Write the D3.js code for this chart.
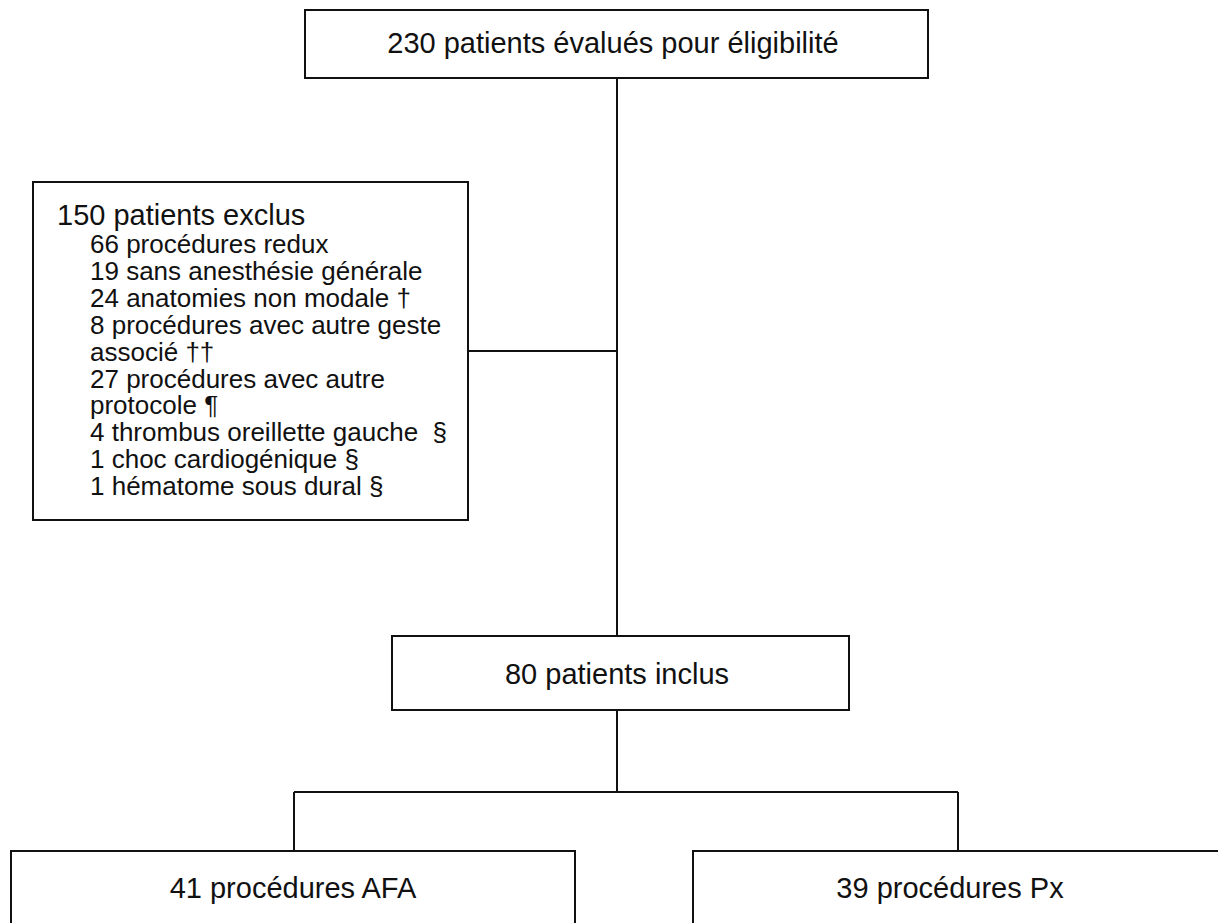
<!DOCTYPE html>
<html>
<head>
<meta charset="utf-8">
<script src="https://cdn.jsdelivr.net/npm/d3@7"></script>
<style>
  html, body { margin: 0; padding: 0; background: #fff; }
  svg { display: block; }
  text { font-family: "Liberation Sans", Arial, Helvetica, sans-serif; fill: #111; white-space: pre; }
</style>
</head>
<body>
<svg id="chart" width="1218" height="923"></svg>
<script>
// ---- content ----
const screeningLabel = "230 patients évalués pour éligibilité";
const includedLabel = "80 patients inclus";
const armLabels = ["41 procédures AFA", "39 procédures Px"];
const exclusionTitle = "150 patients exclus";
const exclusionItems = [
  "66 procédures redux",
  "19 sans anesthésie générale",
  "24 anatomies non modale †",
  "8 procédures avec autre geste",
  "associé ††",
  "27 procédures avec autre",
  "protocole ¶",
  "4 thrombus oreillette gauche  §",
  "1 choc cardiogénique §",
  "1 hématome sous dural §"
];

// ---- layout ----
const svg = d3.select("#chart");
const stroke = "#111";
const sw = 2;

const boxes = [
  {x: 305, y: 10, w: 623, h: 68, label: screeningLabel, tx: 613, ty: 53},
  {x: 392, y: 636, w: 457, h: 74, label: includedLabel, tx: 617, ty: 684},
  {x: 11, y: 851, w: 564, h: 120, label: armLabels[0], tx: 293, ty: 898},
  {x: 693, y: 851, w: 600, h: 120, label: armLabels[1], tx: 950, ty: 898}
];

const lines = [
  [617, 78, 617, 636],
  [468, 351, 617, 351],
  [617, 710, 617, 792],
  [294, 792, 958, 792],
  [294, 792, 294, 851],
  [958, 792, 958, 851]
];

svg.append("g").selectAll("line").data(lines).join("line")
  .attr("x1", d => d[0]).attr("y1", d => d[1])
  .attr("x2", d => d[2]).attr("y2", d => d[3])
  .attr("stroke", stroke).attr("stroke-width", sw);

const bg = svg.append("g").selectAll("g").data(boxes).join("g");
bg.append("rect")
  .attr("x", d => d.x).attr("y", d => d.y)
  .attr("width", d => d.w).attr("height", d => d.h)
  .attr("fill", "#fff").attr("stroke", stroke).attr("stroke-width", sw);
bg.append("text")
  .attr("x", d => d.tx).attr("y", d => d.ty)
  .attr("text-anchor", "middle")
  .attr("font-size", 29)
  .text(d => d.label);

// exclusion box
const ex = svg.append("g");
ex.append("rect")
  .attr("x", 33).attr("y", 182).attr("width", 435).attr("height", 338)
  .attr("fill", "#fff").attr("stroke", stroke).attr("stroke-width", sw);
ex.append("text")
  .attr("x", 57).attr("y", 225)
  .attr("font-size", 29)
  .text(exclusionTitle);
ex.selectAll("text.item").data(exclusionItems).join("text")
  .attr("class", "item")
  .attr("x", 90)
  .attr("y", (d, i) => 253 + i * 26.9)
  .attr("font-size", 26)
  .text(d => d);
</script>
</body>
</html>
